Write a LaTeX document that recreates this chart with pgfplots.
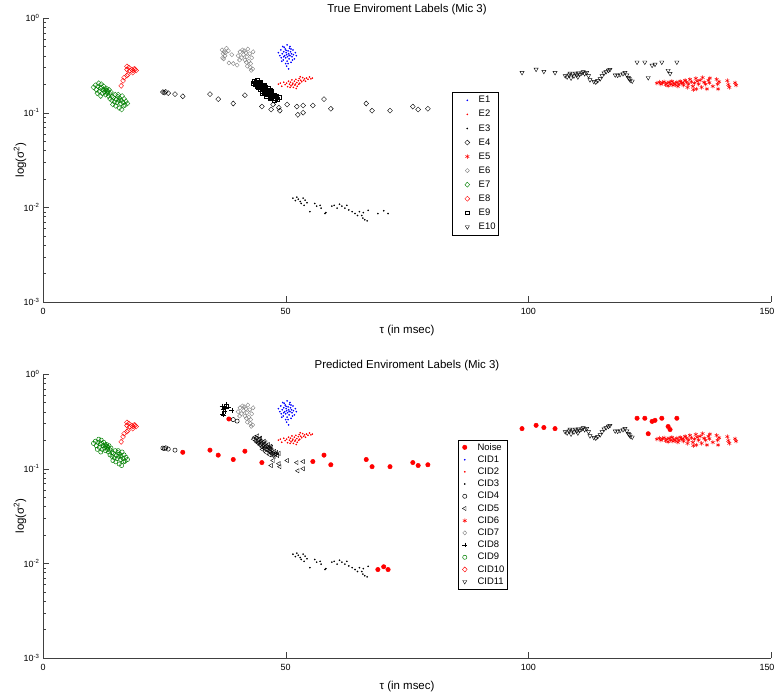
\documentclass[border=0pt]{standalone}
\usepackage{pgfplots}
\pgfplotsset{compat=1.18}
\usepackage{fontspec}
\setmainfont{Liberation Sans}
\definecolor{mgreen}{rgb}{0,0.5,0}
\definecolor{mgray}{rgb}{0.5,0.5,0.5}

% ---------------- data ----------------
\pgfplotstableread{
x y
48.5 0.43
48.8 0.40
49.0 0.46
49.1 0.38
49.3 0.42
49.4 0.50
49.5 0.36
49.6 0.44
49.8 0.40
49.9 0.47
50.0 0.38
50.1 0.43
50.2 0.41
50.3 0.52
50.3 0.35
50.4 0.39
50.5 0.45
50.6 0.42
50.7 0.37
50.8 0.48
50.9 0.40
51.0 0.44
51.1 0.34
51.2 0.42
51.3 0.39
51.5 0.46
51.6 0.41
51.8 0.37
52.0 0.43
52.2 0.40
50.2 0.31
50.5 0.33
50.6 0.29
50.0 0.33
49.7 0.49
50.9 0.50
49.2 0.35
51.4 0.36
50.1 0.455
50.7 0.405
49.6 0.39
51.1 0.47
}\Eone
\pgfplotstableread{
x y
48.5 0.20
48.9 0.205
49.2 0.19
49.6 0.21
49.9 0.198
50.2 0.205
50.4 0.188
50.6 0.215
50.8 0.2
51.0 0.21
51.1 0.192
51.3 0.222
51.5 0.205
51.6 0.185
51.8 0.215
52.0 0.2
52.1 0.225
52.3 0.208
52.4 0.19
52.6 0.218
52.8 0.23
52.9 0.205
53.1 0.22
53.3 0.212
53.5 0.235
53.7 0.22
53.9 0.228
54.1 0.215
54.3 0.232
54.6 0.225
54.9 0.238
55.2 0.228
55.5 0.232
51.9 0.195
52.7 0.2
50.9 0.185
53.0 0.24
52.2 0.18
51.4 0.198
}\Etwo
\pgfplotstableread{
x y
51.5 0.0125
52.0 0.0118
52.3 0.0128
52.6 0.0122
53.0 0.0115
53.2 0.011
53.6 0.0125
54.0 0.0119
54.4 0.0112
53.8 0.0105
55.0 0.009
56.0 0.011
56.4 0.0103
57.1 0.0105
57.3 0.0098
58.1 0.0086
58.3 0.0088
59.5 0.0103
60.0 0.0105
60.6 0.0098
61.1 0.0108
61.6 0.0103
62.2 0.0098
62.6 0.0105
63.0 0.0094
63.7 0.009
64.3 0.0086
64.8 0.0082
65.2 0.009
65.7 0.0082
65.9 0.0077
66.3 0.0074
66.8 0.0072
67.0 0.0093
66.0 0.0088
}\EthreeA
\pgfplotstableread{
x y
69.0 0.0086
70.2 0.0092
71.1 0.0086
}\EthreeB
\pgfplotstableread{
x y
24.7 0.165
25.0 0.163
25.3 0.166
25.8 0.161
27.2 0.157
}\EfourA
\pgfplotstableread{
x y
28.8 0.149
34.4 0.157
36.1 0.139
39.2 0.125
41.6 0.153
45.1 0.116
55.6 0.119
57.9 0.139
59.3 0.110
66.6 0.125
67.8 0.105
71.5 0.105
76.2 0.116
77.3 0.108
79.3 0.110
}\EfourB
\pgfplotstableread{
x y
47.4 0.122
47.0 0.108
48.6 0.113
48.8 0.105
50.3 0.122
52.3 0.116
53.6 0.119
52.5 0.095
53.6 0.100
}\EfourC
\pgfplotstableread{
x y
126.5 0.205
127.0 0.21
127.3 0.2
127.6 0.208
128.0 0.212
128.3 0.198
128.6 0.205
129.0 0.21
129.3 0.2
129.6 0.215
130.0 0.205
130.3 0.198
130.6 0.21
131.0 0.2
131.3 0.215
131.6 0.205
132.0 0.195
132.3 0.22
132.6 0.21
133.0 0.2
133.3 0.225
133.6 0.212
133.9 0.19
134.2 0.205
134.5 0.23
134.8 0.215
135.1 0.2
135.4 0.22
135.7 0.185
135.9 0.235
136.2 0.21
136.5 0.2
136.8 0.178
137.1 0.22
137.4 0.232
137.3 0.207
138.0 0.19
138.8 0.225
139.0 0.2
139.1 0.178
139.3 0.212
141.0 0.218
141.2 0.198
141.4 0.185
142.6 0.207
142.8 0.195
130.8 0.19
132.8 0.185
134.0 0.175
134.6 0.178
129.8 0.195
131.9 0.208
128.8 0.192
}\Efive
\pgfplotstableread{
x y
36.9 0.46
37.1 0.42
37.3 0.44
37.5 0.40
37.2 0.37
37.8 0.48
38.2 0.45
38.9 0.41
37.0 0.38
37.6 0.43
}\EsixA
\pgfplotstableread{
x y
39.2 0.33
40.0 0.318
}\EsixB
\pgfplotstableread{
x y
38.3 0.335
}\EsixC
\pgfplotstableread{
x y
40.2 0.40
40.6 0.44
40.9 0.38
41.1 0.46
41.3 0.41
41.6 0.36
41.8 0.43
42.0 0.39
42.2 0.47
42.4 0.35
42.6 0.42
42.8 0.33
43.0 0.38
42.1 0.31
42.7 0.30
43.2 0.29
41.5 0.45
40.5 0.36
41.9 0.34
43.3 0.44
42.9 0.28
}\EsixD
\pgfplotstableread{
x y
10.4 0.185
10.8 0.195
11.0 0.175
11.3 0.19
11.6 0.168
11.8 0.182
12.0 0.2
12.2 0.16
12.4 0.175
12.5 0.19
12.7 0.165
12.9 0.155
13.0 0.172
13.1 0.18
13.3 0.16
13.4 0.168
13.5 0.15
13.6 0.175
13.8 0.158
11.5 0.205
12.1 0.185
12.8 0.178
13.2 0.17
11.2 0.16
11.9 0.15
14.0 0.165
14.2 0.148
13.8 0.14
14.2 0.135
14.5 0.145
14.7 0.13
14.9 0.155
15.1 0.138
15.3 0.128
15.4 0.148
15.6 0.135
15.8 0.142
16.0 0.125
16.1 0.135
16.3 0.15
16.5 0.128
16.7 0.14
16.9 0.12
17.1 0.132
17.4 0.125
15.0 0.118
15.7 0.112
16.2 0.108
14.4 0.122
15.5 0.155
16.6 0.118
}\Eseven
\pgfplotstableread{
x y
16.1 0.192
16.5 0.217
16.7 0.234
17.3 0.246
17.5 0.253
17.3 0.286
17.7 0.300
18.3 0.286
18.5 0.279
19.0 0.286
17.9 0.279
18.5 0.265
17.3 0.308
18.8 0.290
19.2 0.279
}\Eeight
\pgfplotstableread{
x y
43.4 0.205
43.6 0.215
43.8 0.198
44.0 0.21
44.1 0.19
44.3 0.2
44.4 0.185
44.6 0.205
44.7 0.178
44.9 0.195
45.0 0.185
45.1 0.17
45.3 0.19
45.4 0.175
45.5 0.165
45.7 0.182
45.8 0.17
45.9 0.16
46.1 0.175
46.2 0.158
46.3 0.168
46.5 0.155
46.6 0.165
46.8 0.15
46.9 0.16
47.0 0.145
47.2 0.155
47.4 0.148
47.5 0.14
47.7 0.152
47.9 0.142
48.1 0.148
48.3 0.138
48.6 0.145
44.2 0.222
44.8 0.21
45.6 0.195
46.4 0.18
47.1 0.168
45.2 0.16
46.0 0.148
46.7 0.14
47.6 0.135
44.5 0.19
45.9 0.188
46.9 0.172
}\Enine
\pgfplotstableread{
x y
107.6 0.245
108.0 0.238
108.4 0.25
108.8 0.232
109.1 0.255
109.4 0.244
109.7 0.26
110.0 0.25
110.3 0.262
110.6 0.255
110.2 0.238
108.6 0.26
111.0 0.262
111.3 0.27
111.6 0.258
112.0 0.265
112.4 0.245
112.7 0.222
113.5 0.213
113.9 0.21
114.3 0.218
114.8 0.228
115.2 0.245
115.6 0.262
116.0 0.27
116.5 0.28
116.8 0.285
117.9 0.25
118.4 0.248
118.9 0.252
119.5 0.258
119.9 0.265
120.3 0.25
120.6 0.235
121.0 0.22
121.4 0.215
120.8 0.228
}\EtenA
\pgfplotstableread{
x y
98.7 0.265
101.6 0.287
103.2 0.272
105.5 0.265
122.4 0.341
124.0 0.341
125.5 0.316
126.1 0.324
127.5 0.341
124.7 0.234
128.8 0.279
129.2 0.259
130.6 0.341
}\EtenB

\pgfplotsset{
  envaxis/.style={
    scale only axis, width=728bp, height=284bp,
    xmin=0, xmax=150, ymin=1e-3, ymax=1,
    axis x line=bottom, axis y line=left,
    axis line style={-, black!75},
    tick align=inside, major tick length=6bp, minor tick length=3bp,
    tick style={black!75},
    xtick={0,50,100,150},
    xticklabels={0,50,100,{\hspace*{-8bp}150}},
    ytick={0.001,0.01,0.1,1},
    yticklabels={10\textsuperscript{-3},10\textsuperscript{-2},10\textsuperscript{-1},10\textsuperscript{0}},
    tick label style={font=\fontsize{9}{10}\selectfont},
    xticklabel style={yshift=-3bp},
    label style={font=\fontsize{11.5}{13}\selectfont},
    xlabel style={yshift=-3bp},
    ylabel style={at={(axis description cs:-0.0316,0.5)}, anchor=center},
    title style={font=\fontsize{11.5}{13}\selectfont, at={(axis description cs:0.5,1)}, anchor=base, yshift=0bp},
    xlabel={τ (in msec)}, ylabel={log(σ\textsuperscript{2})},
    legend cell align=left,
    legend style={draw=black, fill=white, font=\fontsize{9.5}{10}\selectfont,
      row sep=0pt, inner sep=1bp},
  },
  dotb/.style={only marks, mark=*, mark size=0.6bp, color=blue},
  dotr/.style={only marks, mark=*, mark size=0.6bp, color=red},
  dotk/.style={only marks, mark=*, mark size=0.6bp, color=black},
  mk/.style={only marks, every mark/.append style={line width=0.5bp}},
  dia/.style={mk, mark=diamond, mark size=2.5bp, mark options={xscale=1.3}},
  tdown/.style={mk, mark=triangle, mark size=2.4bp, mark options={rotate=180}},
  tleft/.style={mk, mark=triangle, mark size=2.4bp, mark options={rotate=90}},
}

\begin{document}
\begin{tikzpicture}
\path[use as bounding box] (0,0) rectangle (776bp,-694bp);
% ---------------- top ----------------
\begin{semilogyaxis}[envaxis, at={(43bp,-302bp)}, anchor=south west,
  title={True Enviroment Labels (Mic 3)},
  legend image code/.code={\path (0bp,0bp) (23bp,0bp); \draw[#1] plot coordinates {(13.8bp,0bp)};},
  legend style={at={(0.562,0.739)}, anchor=north west, nodes={inner ysep=3bp}}]
\addplot[dotb] table {\Eone};
\addlegendentry{E1}
\addplot[dotr] table {\Etwo};
\addlegendentry{E2}
\addplot[dotk] table {\EthreeA};
\addlegendentry{E3}
\addplot[dotk, forget plot] table {\EthreeB};
\addplot[dia, black] table {\EfourA};
\addlegendentry{E4}
\addplot[dia, black, forget plot] table {\EfourB};
\addplot[dia, black, forget plot] table {\EfourC};
\addplot[mk, mark=asterisk, mark size=2.2bp, red] table {\Efive};
\addlegendentry{E5}
\addplot[dia, mark size=2.1bp, mgray] table {\EsixA};
\addlegendentry{E6}
\addplot[dia, mark size=2.1bp, mgray, forget plot] table {\EsixB};
\addplot[dia, mark size=2.1bp, mgray, forget plot] table {\EsixC};
\addplot[dia, mark size=2.1bp, mgray, forget plot] table {\EsixD};
\addplot[dia, mgreen] table {\Eseven};
\addlegendentry{E7}
\addplot[dia, red] table {\Eeight};
\addlegendentry{E8}
\addplot[mk, mark=square, mark size=1.9bp, black] table {\Enine};
\addlegendentry{E9}
\addplot[tdown, black] table {\EtenA};
\addlegendentry{E10}
\addplot[tdown, black, forget plot] table {\EtenB};
\end{semilogyaxis}
% ---------------- bottom ----------------
\begin{semilogyaxis}[envaxis, at={(43bp,-658bp)}, anchor=south west,
  title={Predicted Enviroment Labels (Mic 3)},
  legend image code/.code={\path (0bp,0bp) (16bp,0bp); \draw[#1] plot coordinates {(5.4bp,0bp)};},
  legend style={at={(0.570,0.768)}, anchor=north west, nodes={inner ysep=2.05bp}}]
\addplot[mk, mark=*, mark size=2.2bp, red] table {\EfourB};
\addlegendentry{Noise}
\addplot[mk, mark=*, mark size=2.2bp, red, forget plot] table {\EsixC};
\addplot[mk, mark=*, mark size=2.2bp, red, forget plot] table {\EtenB};
\addplot[mk, mark=*, mark size=2.2bp, red, forget plot] table {\EthreeB};
\addplot[dotb] table {\Eone};
\addlegendentry{CID1}
\addplot[dotr] table {\Etwo};
\addlegendentry{CID2}
\addplot[dotk] table {\EthreeA};
\addlegendentry{CID3}
\addplot[mk, mark=o, mark size=2.1bp, black] table {\EfourA};
\addlegendentry{CID4}
\addplot[mk, mark=o, mark size=2.1bp, black, forget plot] table {\EsixB};
\addplot[tleft, black] table {\Enine};
\addlegendentry{CID5}
\addplot[tleft, black, forget plot] table {\EfourC};
\addplot[mk, mark=asterisk, mark size=2.2bp, red] table {\Efive};
\addlegendentry{CID6}
\addplot[dia, mark size=2.1bp, mgray] table {\EsixD};
\addlegendentry{CID7}
\addplot[mk, mark=+, mark size=2.4bp, black] table {\EsixA};
\addlegendentry{CID8}
\addplot[mk, mark=o, mark size=2.1bp, mgreen] table {\Eseven};
\addlegendentry{CID9}
\addplot[dia, red] table {\Eeight};
\addlegendentry{CID10}
\addplot[tdown, black] table {\EtenA};
\addlegendentry{CID11}
\end{semilogyaxis}
\end{tikzpicture}
\end{document}
